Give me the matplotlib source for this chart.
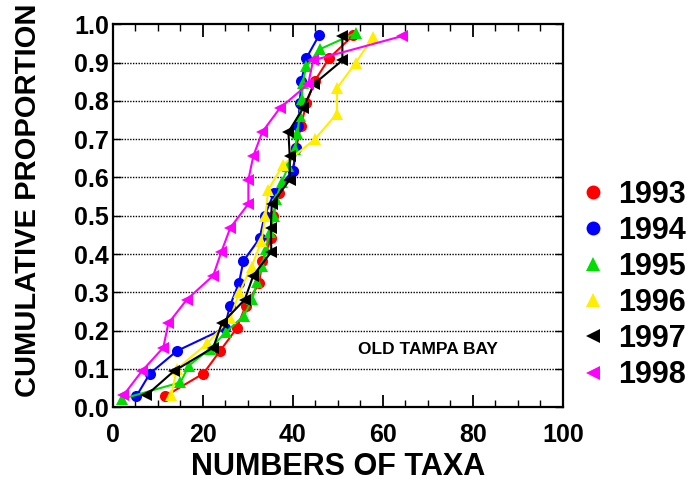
import matplotlib
matplotlib.use('Agg')
import matplotlib.pyplot as plt
from matplotlib.lines import Line2D
from matplotlib.ticker import MultipleLocator

plt.rcParams['font.family'] = ['Liberation Sans', 'DejaVu Sans']
plt.rcParams['font.weight'] = 'bold'

# --- cumulative proportion curves, one per year ---
YEARS = ['1993', '1994', '1995', '1996', '1997', '1998']

x_1993 = [11.6, 20.1, 23.8, 27.5, 29.5, 32.5, 33.2, 35.2, 35.5, 37.0,
          40.0, 40.7, 41.8, 43.0, 44.9, 48.1, 53.4]
y_1993 = [0.029, 0.088, 0.147, 0.206, 0.265, 0.324, 0.382, 0.441, 0.500,
          0.559, 0.618, 0.676, 0.735, 0.794, 0.853, 0.912, 0.971]

x_1994 = [5.2, 8.2, 14.2, 24.8, 26.0, 28.0, 29.0, 32.6, 33.7, 35.8,
          40.0, 40.8, 41.2, 41.5, 41.9, 43.0, 45.8]
y_1994 = [0.029, 0.088, 0.147, 0.206, 0.265, 0.324, 0.382, 0.441, 0.500,
          0.559, 0.618, 0.676, 0.735, 0.794, 0.853, 0.912, 0.971]

x_1995 = [2.1, 15.0, 16.9, 21.5, 25.1, 29.1, 31.0, 32.0, 33.2, 34.0,
          34.8, 35.8, 36.2, 37.5, 39.0, 40.5, 41.0, 41.5, 42.0, 42.2,
          43.0, 46.0, 54.1]
y_1995 = [0.022, 0.065, 0.109, 0.152, 0.196, 0.239, 0.283, 0.326, 0.370,
          0.413, 0.457, 0.500, 0.543, 0.587, 0.630, 0.674, 0.717, 0.761,
          0.804, 0.848, 0.891, 0.935, 0.978]

x_1996 = [13.0, 14.2, 21.0, 26.1, 28.1, 30.8, 33.0, 33.9, 34.5, 37.8,
          44.9, 49.8, 49.8, 54.0, 57.8]
y_1996 = [0.033, 0.100, 0.167, 0.233, 0.300, 0.367, 0.433, 0.500, 0.567,
          0.633, 0.700, 0.767, 0.833, 0.900, 0.967]

x_1997 = [7.4, 13.5, 22.3, 24.2, 29.3, 31.2, 35.2, 35.1, 35.3, 39.3,
          39.3, 39.0, 42.3, 44.7, 51.0, 51.0]
y_1997 = [0.031, 0.094, 0.156, 0.219, 0.281, 0.344, 0.406, 0.469, 0.531,
          0.594, 0.656, 0.719, 0.781, 0.844, 0.906, 0.969]

x_1998 = [2.3, 6.4, 11.2, 12.3, 16.4, 22.3, 24.1, 26.1, 30.1, 30.1,
          31.2, 33.2, 37.1, 43.4, 44.5, 64.2]
y_1998 = [0.031, 0.094, 0.156, 0.219, 0.281, 0.344, 0.406, 0.469, 0.531,
          0.594, 0.656, 0.719, 0.781, 0.844, 0.906, 0.969]

SERIES = [
    (x_1993, y_1993, '#ff0000', 'o'),
    (x_1994, y_1994, '#0000ff', 'o'),
    (x_1995, y_1995, '#00dd00', '^'),
    (x_1996, y_1996, '#ffee00', '^'),
    (x_1997, y_1997, '#000000', '<'),
    (x_1998, y_1998, '#ff00ff', '<'),
]

fig = plt.figure(figsize=(6.88, 4.86), dpi=100)
ax = fig.add_axes([0.1642, 0.162, 0.6538, 0.788])

for xs, ys, color, marker in SERIES:
    ax.plot(xs, ys, color=color, lw=1.5, marker=marker, ms=8,
            markeredgewidth=0, zorder=3)

# dotted horizontal grid
for gy in [0.1, 0.2, 0.3, 0.4, 0.5, 0.6, 0.7, 0.8, 0.9]:
    ax.axhline(gy, color='black', ls=(0, (1, 1)), lw=1.0, zorder=1)

ax.set_xlim(0, 100)
ax.set_ylim(0, 1.0)
ax.xaxis.set_major_locator(MultipleLocator(20))
ax.xaxis.set_minor_locator(MultipleLocator(5))
ax.yaxis.set_major_locator(MultipleLocator(0.1))
ax.yaxis.set_major_formatter(plt.FuncFormatter(lambda v, p: f'{v:.1f}'))
ax.tick_params(axis='x', which='major', direction='in', length=9, width=1.3,
               top=True, labelsize=18, pad=11)
ax.tick_params(axis='x', which='minor', direction='in', length=5, width=1.0,
               top=True)
ax.tick_params(axis='y', which='major', direction='in', length=6, width=1.0,
               right=True, labelsize=18, pad=3)
for lbl in ax.get_xticklabels() + ax.get_yticklabels():
    lbl.set_fontweight('bold')
for sp in ax.spines.values():
    sp.set_linewidth(1.6)

ax.set_xlabel('NUMBERS OF TAXA', fontsize=22, fontweight='bold', labelpad=4)
ax.set_ylabel('CUMULATIVE PROPORTION', fontsize=21, fontweight='bold')
ax.yaxis.set_label_coords(-0.158, 0.54)

ax.text(70, 0.152, 'OLD TAMPA BAY', fontsize=12.5, fontweight='bold',
        ha='center', va='center')

handles = [Line2D([], [], ls='none', marker=m, color=c, ms=10,
                  markeredgewidth=0)
           for _, _, c, m in SERIES]
fig.legend(handles, YEARS, loc='center left', bbox_to_anchor=(0.840, 0.4136),
           frameon=False, prop={'size': 22, 'weight': 'bold'},
           handletextpad=0.3, labelspacing=0.2, handlelength=1.0,
           borderpad=0, borderaxespad=0)

fig.savefig('out.png', dpi=100)
